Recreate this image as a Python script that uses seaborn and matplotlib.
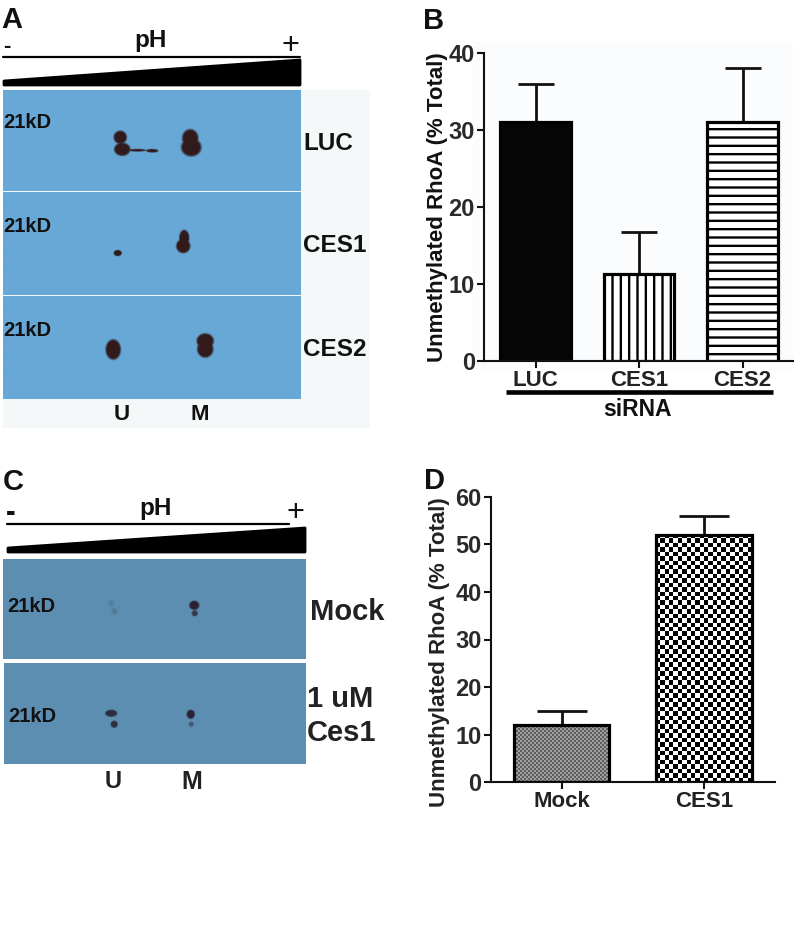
import numpy as np
import pandas as pd
import matplotlib
matplotlib.use('Agg')
import matplotlib.pyplot as plt
import seaborn as sns

sns.set_theme(style="white")
plt.rcParams['font.family'] = ['Liberation Sans', 'DejaVu Sans']
plt.rcParams['font.weight'] = 'bold'
plt.rcParams['hatch.linewidth'] = 1.7

W, H = 801, 934

# panel B
b_labels = ["LUC", "CES1", "CES2"]
b_values = [31, 11.3, 31]
b_tops = [35.9, 16.7, 38]
b_ticks = [0, 10, 20, 30, 40]

# panel D
d_labels = ["Mock", "CES1"]
d_values = [12, 52]
d_tops = [15, 56]
d_ticks = [0, 10, 20, 30, 40, 50, 60]

ylabel_text = "Unmethylated RhoA (% Total)"

# gel spots, in picture pixels: x, y, x radius, y radius, strength
luc_spots = [(120, 137, 6.5, 6.5, 1), (122, 149, 8, 6.5, 1), (137, 150, 9, 1.2, 1), (152, 150.5, 6, 1.7, 1),
             (190, 138, 8, 9, 1), (191, 147, 10, 9, 1)]
ces1_spots = [(117.5, 253, 4, 3, 1), (184, 238, 5, 8, 1), (183, 246, 7, 7, 1)]
ces2_spots = [(113, 349.5, 7.5, 10, 1), (205, 341, 8.5, 7.5, 1), (205, 349, 8, 8.5, 1)]
mock_spots = [(111, 603, 3, 4, 0.12), (114, 611, 3, 3, 0.2), (194, 605, 5, 4.5, 1), (194.5, 613, 3, 3, 0.8)]
ces_spots = [(111, 713, 6, 3.5, 0.9), (114, 724, 3.5, 3.5, 0.9), (190.5, 714, 4, 4.5, 1), (191, 724, 2.5, 2.5, 0.5)]

fig = plt.figure(figsize=(W / 100, H / 100), dpi=100, facecolor='white')


def px_axes(x0, y0, x1, y1):
    return fig.add_axes([x0 / W, 1 - y1 / H, (x1 - x0) / W, (y1 - y0) / H])


bg = px_axes(0, 0, W, H)
bg.set_xlim(0, W)
bg.set_ylim(H, 0)
bg.axis('off')


def draw_gel(x0, y0, x1, y1, color, spots, dark):
    """soft dark spots on a flat membrane colour"""
    xs, ys = np.meshgrid(np.arange(x0, x1, 0.5), np.arange(y0, y1, 0.5))
    d = np.zeros_like(xs)
    for sx, sy, rx, ry, s in spots:
        r = ((xs - sx) / rx) ** 2 + ((ys - sy) / ry) ** 2
        d = np.maximum(d, s * np.clip((1.25 - r) / 0.5, 0, 1))
    img = np.ones(xs.shape + (3,)) * np.array(matplotlib.colors.to_rgb(color))
    img = img * (1 - d[..., None]) + np.array(matplotlib.colors.to_rgb(dark)) * d[..., None]
    bg.imshow(img, extent=(x0, x1, y1, y0), interpolation='bilinear', aspect='auto', zorder=2)


def ph_header(x0, x1, line_end, line_y, wedge_left, wedge_right, wedge_bottom, ph_x, plus_x, plus_y, minus_size, minus_y):
    bg.plot([x0, line_end], [line_y, line_y], color='black', lw=1.6, zorder=3)
    bg.fill([x0 + 1, x1 - 1, x1 - 1, x0 + 1], [wedge_left + 1, wedge_right + 1, wedge_bottom - 1, wedge_bottom - 1],
            facecolor='black', edgecolor='black', lw=2, joinstyle='round', zorder=3)
    bg.text(ph_x, line_y - 16, "pH", fontsize=17.5, ha='center', va='center', color='#111111', zorder=4)
    bg.text(x0 + 4, minus_y, "-", fontsize=minus_size, ha='center', va='center', color='#111111', zorder=4)
    bg.text(plus_x, plus_y, "+", fontsize=22, ha='center', va='center', color='#111111', fontweight='normal', zorder=4)


# panel A
bg.add_patch(plt.Rectangle((3, 90), 367, 338, color='#f5f8f8', lw=0, zorder=1))
draw_gel(3, 90, 301, 191, '#67a8d6', luc_spots, '#321a1c')
draw_gel(3, 192.5, 301, 295, '#67a8d6', ces1_spots, '#321a1c')
draw_gel(3, 296.5, 301, 399, '#67a8d6', ces2_spots, '#321a1c')
ph_header(3, 301, 300, 57, 80, 59, 86, 151, 290, 46, 16, 47)
for y in [123, 227, 330]:
    bg.text(3, y, "21kD", fontsize=14.5, va='center', color='#111111', zorder=4)
for y, t in [(144, "LUC"), (246, "CES1"), (349, "CES2")]:
    bg.text(303, y, t, fontsize=17.5, va='center', color='#111111', zorder=4)
bg.text(122, 415, "U", fontsize=16, ha='center', va='center', color='#111111', zorder=4)
bg.text(200, 415, "M", fontsize=16, ha='center', va='center', color='#111111', zorder=4)

# panel C
draw_gel(3, 559, 306, 659, '#5d8eb1', mock_spots, '#2b2234')
draw_gel(4, 663, 306, 764, '#5d8eb1', ces_spots, '#2b2234')
ph_header(7, 306, 289, 524, 547, 527, 553, 156, 295, 513, 21, 513)
bg.text(7, 607, "21kD", fontsize=14.5, va='center', color='#111111', zorder=4)
bg.text(8, 716, "21kD", fontsize=14.5, va='center', color='#111111', zorder=4)
bg.text(310, 612, "Mock", fontsize=21, va='center', color='#222222', zorder=4)
bg.text(307, 699, "1 uM", fontsize=21, va='center', color='#222222', zorder=4)
bg.text(307, 733, "Ces1", fontsize=21, va='center', color='#222222', zorder=4)
bg.text(113, 781, "U", fontsize=17, ha='center', va='center', color='#222222', zorder=4)
bg.text(192, 782, "M", fontsize=18, ha='center', va='center', color='#222222', zorder=4)

# panel letters
for x, y, t in [(12, 19.5, "A"), (434, 21, "B"), (13, 482, "C"), (435, 481, "D")]:
    bg.text(x, y, t, fontsize=21, ha='center', va='center', color='#111111', zorder=4)


def bar_panel(ax, labels, values, tops, ticks, ymax, xlim, width, capsize):
    df = pd.DataFrame({"group": labels, "value": values})
    sns.barplot(data=df, x="group", y="value", ax=ax, width=width, color='white',
                edgecolor='black', linewidth=2.3, saturation=1, errorbar=None, zorder=2)
    errs = np.array(tops) - np.array(values)
    ax.errorbar(range(len(values)), values, yerr=[np.zeros(len(errs)), errs], fmt='none',
                ecolor='#111111', elinewidth=2, capsize=capsize, capthick=2, zorder=1)
    ax.set_xlim(*xlim)
    ax.set_ylim(0, ymax)
    ax.set_yticks(ticks)
    ax.set_xlabel("")
    ax.set_ylabel("")
    ax.patch.set_alpha(0)
    sns.despine(ax=ax)
    for s in ['left', 'bottom']:
        ax.spines[s].set_linewidth(1.5)
        ax.spines[s].set_color('#111111')
    ax.tick_params(axis='both', length=5, width=1.5, color='#111111', left=True, bottom=True, pad=1.5)
    ax.tick_params(axis='y', labelsize=17, labelcolor='#2a2a2a')
    ax.tick_params(axis='x', labelsize=16, labelcolor='#222222')
    for lab in ax.get_xticklabels() + ax.get_yticklabels():
        lab.set_fontweight('bold')


def checker_fill(ax, bar, cell, interp):
    """checker texture over one bar, cell is the square size in pixels"""
    x0, x1 = bar.get_x(), bar.get_x() + bar.get_width()
    y1 = bar.get_height()
    box = ax.get_window_extent()
    nx = max(int(round((x1 - x0) / (ax.get_xlim()[1] - ax.get_xlim()[0]) * box.width / cell)), 1)
    ny = max(int(round(y1 / ax.get_ylim()[1] * box.height / cell)), 1)
    grid = np.indices((ny, nx)).sum(axis=0) % 2
    ax.imshow(grid, cmap='gray', extent=(x0, x1, 0, y1), aspect='auto', interpolation=interp, zorder=2.5)
    ax.set_aspect('auto')


# panel B
bg.add_patch(plt.Rectangle((473, 42), 320, 328, color='#fbfcfe', lw=0, zorder=1))
axb = px_axes(484, 52.7, 793, 361)
bar_panel(axb, b_labels, b_values, b_tops, b_ticks, 40, (-0.498, 2.488), 0.68, 13)
bars = axb.patches
bars[0].set_facecolor('#050505')
bars[1].set_hatch('||')
bars[2].set_hatch('--')
axb.set_xlim(-0.498, 2.488)
bg.text(437, 207, ylabel_text, rotation=90, fontsize=16, ha='center', va='center', color='#111111', zorder=4)
bg.plot([506, 773], [392, 392], color='black', lw=3.3, solid_capstyle='butt', zorder=4)
bg.text(637, 410, "siRNA", fontsize=16.5, ha='center', va='center', color='#111111', zorder=4)

# panel D
axd = px_axes(490.7, 496.7, 775, 782.3)
bar_panel(axd, d_labels, d_values, d_tops, d_ticks, 60, (-0.4975, 1.5), 0.672, 17.8)
checker_fill(axd, axd.patches[0], 2.0, 'bilinear')
checker_fill(axd, axd.patches[1], 4.4, 'nearest')
axd.set_xlim(-0.4975, 1.5)
axd.set_ylim(0, 60)
for p in axd.patches:
    p.set_zorder(3)
    p.set_facecolor('none')
bg.text(440, 652, ylabel_text, rotation=90, fontsize=16, ha='center', va='center', color='#222222', zorder=4)

fig.savefig("out.png", dpi=100)
